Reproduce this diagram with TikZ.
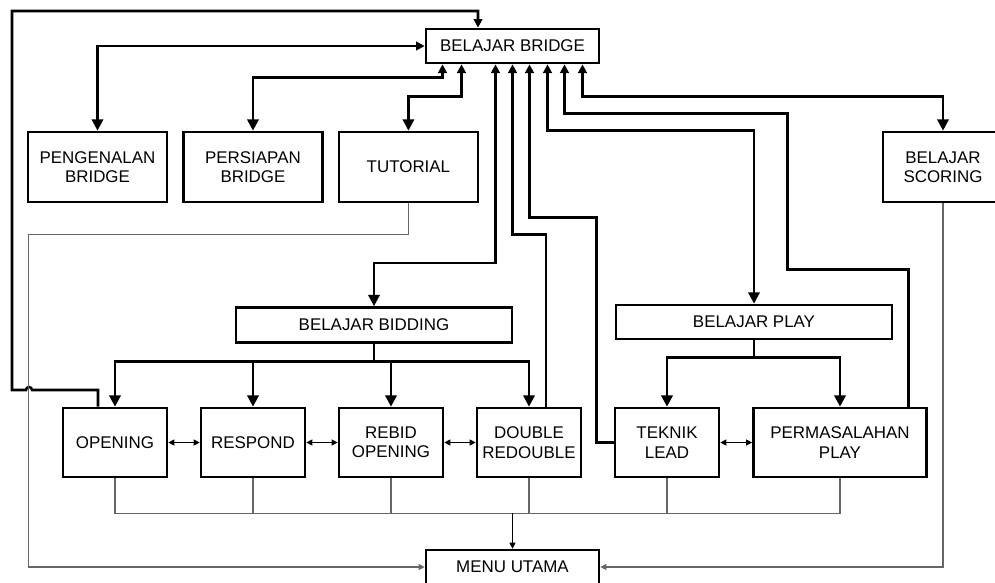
\documentclass[tikz,border=0pt]{standalone}
\usepackage{fontspec}
\setmainfont{Liberation Sans}
\usetikzlibrary{positioning,arrows.meta,calc}
\tikzstyle{MenuNode}=[rectangle, draw=black, line width=2pt, fill=white, align=center, inner sep=0pt, font=\fontsize{12.7}{14.5}\selectfont]
\tikzstyle{WideNode}=[MenuNode, minimum width=129.75pt, minimum height=25.5pt]
\tikzstyle{TopNode}=[MenuNode, minimum width=104.25pt, minimum height=52.5pt]
\tikzstyle{RowNode}=[MenuNode, minimum width=78pt, minimum height=51.75pt]
\tikzstyle{GroupNode}=[MenuNode, minimum width=207pt, minimum height=25.5pt]
\tikzstyle{MainLink}=[line width=1.9pt]
\tikzstyle{ThinLink}=[line width=0.8pt]
\tikzstyle{BackLink}=[line width=0.8pt, draw=gray!80!black]
\tikzset{
  UpTip/.style={-{Triangle[length=6.5pt,width=6.5pt]}},
  DownTip/.style={-{Triangle[length=8.5pt,width=8.5pt]}},
  BothTip/.style={{Triangle[length=8.5pt,width=8.5pt]}-{Triangle[length=6.5pt,width=6.5pt]}},
  SmallTip/.style={-{Triangle[length=4.5pt,width=4.5pt]}},
  SmallBoth/.style={{Triangle[length=4.5pt,width=4.5pt]}-{Triangle[length=4.5pt,width=4.5pt]}}
}

\begin{document}
\begin{tikzpicture}[x=0.75pt, y=-0.75pt, node distance=116.6pt]
    \clip (0,0) rectangle (995,582);

    \node (bridge) [WideNode] at (512.5,46) {BELAJAR BRIDGE};
    \node (pengenalan) [TopNode] at (97.5,167) {PENGENALAN\\BRIDGE};
    \node (persiapan) [TopNode, right of=pengenalan] {PERSIAPAN\\BRIDGE};
    \node (tutorial) [TopNode, right of=persiapan] {TUTORIAL};
    \node (scoring) [TopNode, minimum width=90pt] at (943,167) {BELAJAR\\SCORING};

    \node (bidding) [GroupNode, minimum height=26.25pt] at (374,325) {BELAJAR BIDDING};
    \node (play) [GroupNode] at (754,322) {BELAJAR PLAY};

    \begin{scope}[node distance=103.5pt]
    \node (opening) [RowNode] at (115,442.5) {OPENING};
    \node (respond) [RowNode, right of=opening] {RESPOND};
    \node (rebid) [RowNode, right of=respond] {REBID\\OPENING};
    \node (double) [RowNode, right of=rebid] {DOUBLE\\REDOUBLE};
    \node (teknik) [RowNode, right of=double] {TEKNIK\\LEAD};
    \node (permasalahan) [RowNode, minimum width=129.75pt, node distance=129.75pt, right of=teknik] {PERMASALAHAN\\PLAY};
    \end{scope}

    \node (menu) [WideNode] at (512.5,567) {MENU UTAMA};

    % links to belajar bridge
    \draw [MainLink, UpTip] ($(opening.north)+(-17,0)$) |- (32,390) arc[start angle=0, end angle=180, radius=2.25pt] -| (12,11) -| ($(bridge.north)+(-34.5,0)$);
    \draw [MainLink, BothTip] (pengenalan.north) |- (bridge.west);
    \draw [MainLink, BothTip] (persiapan.north) -- ++(0,-53) -| ($(bridge.south)+(-70,0)$);
    \draw [MainLink, BothTip] (tutorial.north) -- ++(0,-34) -| ($(bridge.south)+(-51,0)$);
    \draw [MainLink, BothTip] (scoring.north) -- ++(0,-34) -| ($(bridge.south)+(70,0)$);
    \draw [MainLink, BothTip] (bidding.north) -- ++(0,-43) -| ($(bridge.south)+(-17,0)$);
    \draw [MainLink, UpTip] ($(double.north)+(17,0)$) -- ++(0,-172) -| (bridge.south);
    \draw [MainLink, UpTip] (teknik.west) -- ++(-17,0) -- ++(0,-225) -| ($(bridge.south)+(17,0)$);
    \draw [MainLink, BothTip] (play.north) -- ++(0,-173) -| ($(bridge.south)+(35,0)$);
    \draw [MainLink, UpTip] ($(permasalahan.north)+(68.5,0)$) -- ++(0,-137) -- ++(-121,0) -- ++(0,-156) -| ($(bridge.south)+(52,0)$);

    % bidding and play
    \draw [MainLink] (bidding.south) -- ++(0,17.5) coordinate (bidsplit);
    \foreach \n in {opening,respond,rebid,double}
      \draw [MainLink, DownTip] (bidsplit) -| (\n.north);
    \draw [MainLink] (play.south) -- ++(0,17) coordinate (playsplit);
    \foreach \n in {teknik,permasalahan}
      \draw [MainLink, DownTip] (playsplit) -| (\n.north);

    \draw [ThinLink, SmallBoth] (opening) -- (respond);
    \draw [ThinLink, SmallBoth] (respond) -- (rebid);
    \draw [ThinLink, SmallBoth] (rebid) -- (double);
    \draw [ThinLink, SmallBoth] (teknik) -- (permasalahan);

    % back to menu utama
    \coordinate (menubus) at ($(opening.south)+(0,35)$);
    \draw [BackLink] (opening.south) -- (menubus) -- (menubus -| permasalahan.south) -- (permasalahan.south);
    \foreach \n in {respond,rebid,double,teknik}
      \draw [BackLink] (\n.south) -- (menubus -| \n.south);
    \draw [ThinLink, SmallTip] (menubus -| menu.north) -- (menu.north);
    \draw [BackLink, SmallTip] (tutorial.south) -- ++(0,31) -- ++(-380,0) |- (menu.west);
    \draw [BackLink, SmallTip] (scoring.south) |- (menu.east);
\end{tikzpicture}
\end{document}
